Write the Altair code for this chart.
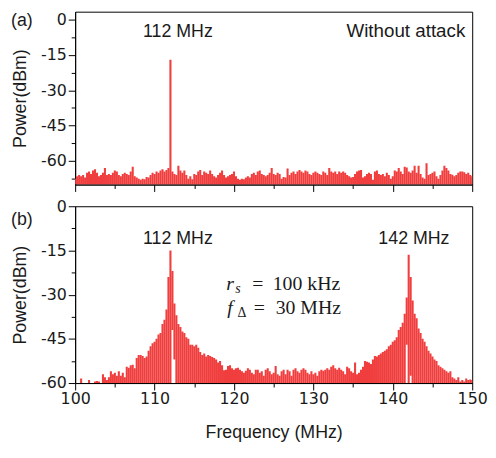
import altair as alt
import pandas as pd

# Frequency grid (MHz), 0.25 MHz bins from 100 to 150
freq = [round(100 + 0.25 * i, 2) for i in range(201)]

# Panel (a): without attack (dBm)
power_a = [
    -67.5, -66.5, -66, -66.5, -66, -67, -65, -64.5, -65.5, -64,
    -63.5, -65, -66.5, -66, -65, -63, -66, -65.5, -66, -65,
    -64, -64.5, -66, -66.5, -65.5, -65, -65.5, -66, -64.5, -62.5,
    -66.5, -67, -67.5, -68, -67.5, -67.8, -66.8, -67, -66, -65,
    -65.5, -64.5, -65, -64, -63.5, -64.5, -63.8, -63, -17, -64.5,
    -65.5, -66, -62, -64, -65, -64, -66, -67.5, -66.5, -67.8,
    -65.5, -66, -64.5, -63.8, -66, -64.5, -65, -65.5, -64, -65.5,
    -66.5, -67, -66, -65, -64, -66, -67, -66.5, -66, -65.5,
    -64.5, -66.5, -67.5, -68, -67.5, -67.8, -67, -66.5, -67, -65.5,
    -65, -66, -64.5, -64, -65.5, -66, -66.5, -66, -65, -63,
    -65.5, -66, -65, -65.5, -67.5, -66.8, -67, -63.2, -66, -65,
    -64.5, -65.5, -64.5, -63.8, -64.5, -65, -64, -64.5, -65.5, -66,
    -65, -64.5, -65, -65.5, -66, -64.5, -65, -66, -63, -64.5,
    -65, -64.5, -65.5, -64.5, -65, -64.5, -65, -66, -66.5, -67,
    -66.8, -65.5, -64.5, -64, -63.8, -67, -66.5, -65.5, -65, -65.5,
    -68, -64.5, -64, -65.5, -66, -65.5, -66.5, -65, -66, -67.5,
    -66.5, -64, -64.5, -63, -64.5, -65.5, -62.5, -62.8, -64.5, -65,
    -64, -62, -65, -62, -65.5, -67, -67.5, -61, -66, -65.5,
    -65, -64.5, -66.5, -67.5, -66, -64, -62, -63, -64, -65.5,
    -65.8, -66.5, -66, -65, -64.5, -64.5, -64.8, -65.5, -65, -66, -66.5,
]

# Panel (b): with attack (dBm)
power_b = [
    -62, -62, -62, -58.5, -62, -62, -62, -59, -62, -62,
    -59.5, -59.3, -59.5, -60.5, -57, -58, -59, -58, -56, -57,
    -56.5, -57.5, -56, -57.5, -56.5, -58, -54.5, -54.8, -54, -53.8,
    -55, -51.5, -50.5, -50.5, -50.8, -51.5, -51, -49, -47.5, -46.5,
    -46, -45, -43.5, -43, -40, -38.5, -35, -24, -15, -22,
    -33, -37, -40, -41, -42.5, -43, -44.5, -45, -47, -47,
    -47.5, -47, -48, -49.5, -50.5, -50, -51, -50.5, -50.8, -51.2,
    -51.5, -52, -53, -52.5, -54, -55.7, -55.5, -54.2, -54, -55,
    -55.5, -55, -54.8, -55.5, -56, -56.5, -55.8, -55, -55.5, -56.5,
    -57, -55.5, -55.5, -56.5, -56, -57.5, -55.5, -55, -56, -57,
    -56.5, -54.2, -57, -57.5, -56, -55.5, -57, -55.5, -56, -57.5,
    -55.5, -55, -56, -56.5, -55.5, -55, -55.5, -56.5, -57, -56,
    -57, -56.5, -57.5, -56, -55.5, -55.8, -55.5, -55, -55.5, -54.5,
    -54, -55, -55.5, -54.8, -55.5, -56, -57, -54.5, -55, -56,
    -56.5, -53, -57, -56.5, -55.5, -54.5, -52.5, -52.8, -53, -53.5,
    -52, -50.8, -51, -50.5, -50, -49.5, -49, -48.5, -47.5, -47,
    -46, -45.5, -44.5, -42, -41, -39.5, -36.5, -31, -16.5, -24,
    -32, -36.5, -38, -41.5, -43, -45, -46, -47.5, -49, -50,
    -51, -52, -52.5, -54, -54.5, -55, -55.5, -56, -56.5, -56,
    -58, -58.5, -59, -58, -59.5, -59, -59.5, -58.5, -59, -58.8, -59,
]

# Bins in panel (b) whose trace does not reach down to the floor
gap_freq = [112.25, 112.5, 141.75, 142.25]
gap_floor = [-42, -52, -47, -57.5]

floor_a = [-70] * len(freq)
floor_b = [gap_floor[gap_freq.index(f)] if f in gap_freq else -60 for f in freq]

x_major = [100, 110, 120, 130, 140, 150]
x_minor = [105, 115, 125, 135, 145]
y_major = [0, -15, -30, -45, -60]
y_minor_a = [-7.5, -22.5, -37.5, -52.5, -67.5]
y_minor_b = [-7.5, -22.5, -37.5, -52.5]

RED = "#F03E3E"
W = 402
H_A, H_B = 175, 179
SANS = "Liberation Sans"
TICKFONT = "DejaVu Sans"
SERIF = "Liberation Serif"

xscale = alt.Scale(domain=[100, 150], nice=False, zero=False)
yscale_a = alt.Scale(domain=[-70, 3.35], nice=False, zero=False)
yscale_b = alt.Scale(domain=[-60, 0], nice=False, zero=False)

df_a = pd.DataFrame({"freq": freq, "power": power_a, "floor": floor_a})
df_b = pd.DataFrame({"freq": freq, "power": power_b, "floor": floor_b})


def y_axis_major():
    return alt.Axis(values=y_major, tickSize=7, labelPadding=2, labelFlush=False,
                    labelExpr="'' + datum.value", title="Power(dBm)",
                    titlePadding=11, orient="left")


def panel(df, yscale, y_minor, show_x_labels, tag, tag_y, texts, height):
    if show_x_labels:
        xa = alt.Axis(values=x_major, tickSize=7, labelPadding=1, labelFlush=False,
                      title="Frequency (MHz)", titlePadding=17, orient="bottom")
    else:
        xa = alt.Axis(values=x_major, tickSize=7, labels=False, title="",
                      orient="bottom")
    bars = alt.Chart(df).mark_rule(color=RED, strokeWidth=2.1, clip=True).encode(
        x=alt.X("freq:Q", scale=xscale, axis=xa),
        y=alt.Y("power:Q", scale=yscale, axis=y_axis_major()),
        y2="floor:Q",
    )
    minor = alt.Chart(df).mark_rule(opacity=0).encode(
        x=alt.X("freq:Q", scale=xscale,
                axis=alt.Axis(values=x_minor, tickSize=4, labels=False,
                              domain=False, title="", orient="bottom")),
        y=alt.Y("power:Q", scale=yscale,
                axis=alt.Axis(values=y_minor, tickSize=4, labels=False,
                              domain=False, title="", orient="left")),
    )
    layers = [bars, minor]
    for t in texts:
        tdf = pd.DataFrame({"x": [t["x"]], "y": [t["y"]], "label": [t["text"]]})
        layers.append(
            alt.Chart(tdf).mark_text(
                font=t.get("font", SANS), fontSize=t["size"], align=t["align"],
                baseline="alphabetic", fontStyle=t.get("style", "normal"),
                color="#1a1a1a",
            ).encode(
                x=alt.X("x:Q", scale=xscale, axis=None),
                y=alt.Y("y:Q", scale=yscale, axis=None),
                text="label:N",
            )
        )
    tagdf = pd.DataFrame({"label": [tag]})
    layers.append(
        alt.Chart(tagdf).mark_text(font=SANS, fontSize=18, align="center",
                                   baseline="middle", color="#1a1a1a").encode(
            x=alt.value(-54), y=alt.value(tag_y), text="label:N")
    )
    return alt.layer(*layers).resolve_axis(x="independent", y="independent").properties(
        width=W, height=height)


texts_a = [
    {"x": 112.94, "y": -7.6, "text": "112 MHz", "size": 18, "align": "center"},
    {"x": 149.13, "y": -7.2, "text": "Without attack", "size": 19, "align": "right"},
]
texts_b = [
    {"x": 112.94, "y": -12.9, "text": "112 MHz", "size": 18, "align": "center"},
    {"x": 142.66, "y": -12.7, "text": "142 MHz", "size": 18, "align": "center"},
    {"x": 119.03, "y": -28.5, "text": "r", "size": 20, "align": "left", "font": SERIF, "style": "italic"},
    {"x": 120.15, "y": -29.6, "text": "s", "size": 14, "align": "left", "font": SERIF, "style": "italic"},
    {"x": 123.0, "y": -28.5, "text": "=", "size": 20, "align": "center", "font": SERIF},
    {"x": 124.88, "y": -28.5, "text": "100 kHz", "size": 20, "align": "left", "font": SERIF},
    {"x": 119.15, "y": -36.5, "text": "f", "size": 20, "align": "left", "font": SERIF, "style": "italic"},
    {"x": 120.45, "y": -37.7, "text": "Δ", "size": 14, "align": "left", "font": SERIF},
    {"x": 123.2, "y": -36.5, "text": "=", "size": 20, "align": "center", "font": SERIF},
    {"x": 125.25, "y": -36.5, "text": "30 MHz", "size": 20, "align": "left", "font": SERIF},
]

pa = panel(df_a, yscale_a, y_minor_a, False, "(a)", 9, texts_a, H_A)
pb = panel(df_b, yscale_b, y_minor_b, True, "(b)", 14, texts_b, H_B)

chart = alt.vconcat(pa, pb, spacing=22, bounds="flush").properties(
    padding={"left": 2, "top": 0, "right": 0, "bottom": 0}
).configure_view(
    stroke="black", strokeWidth=1
).configure_axis(
    labelFont=TICKFONT, titleFont=SANS, labelFontSize=16, titleFontSize=18,
    labelColor="#1a1a1a", titleColor="#1a1a1a", titleFontWeight="normal",
    domainColor="black", tickColor="black", grid=False,
)

chart.save("out.html", embed_options={"renderer": "svg", "actions": False})
